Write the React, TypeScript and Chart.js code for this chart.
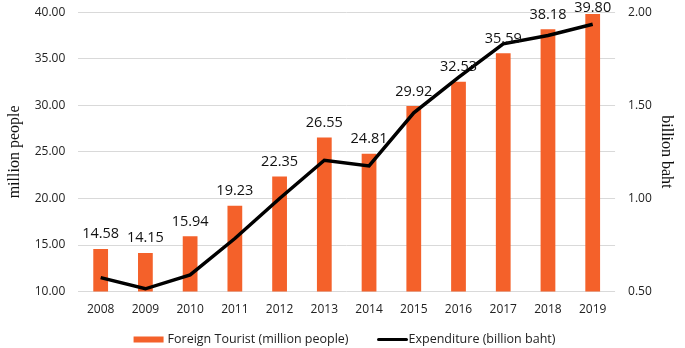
import React, { useEffect, useRef } from "react";
import { Chart, registerables } from "chart.js";

Chart.register(...registerables);

const years = ["2008", "2009", "2010", "2011", "2012", "2013", "2014", "2015", "2016", "2017", "2018", "2019"];
const foreignTourists = [14.58, 14.15, 15.94, 19.23, 22.35, 26.55, 24.81, 29.92, 32.53, 35.59, 38.18, 39.8];
const expenditure = [0.575, 0.515, 0.59, 0.785, 1.0, 1.205, 1.175, 1.46, 1.65, 1.83, 1.875, 1.935];
const seriesNames = ["Foreign Tourist (million people)", "Expenditure (billion baht)"];

const ORANGE = "#f4612a";
const TICK_FONT = "'Open Sans', sans-serif";

const barLabels = {
  id: "barLabels",
  afterDatasetsDraw(chart: any) {
    const ctx = chart.ctx;
    const meta = chart.getDatasetMeta(0);
    ctx.save();
    ctx.font = `14.5px ${TICK_FONT}`;
    ctx.fillStyle = "#111";
    ctx.textAlign = "center";
    ctx.textBaseline = "alphabetic";
    meta.data.forEach((el: any, i: number) => {
      const yBase = Math.max(el.y - 10.5, 12);
      ctx.fillText(foreignTourists[i].toFixed(2), el.x, yBase);
    });
    ctx.restore();
  },
};

const customLegend = {
  id: "customLegend",
  afterDraw(chart: any) {
    const ctx = chart.ctx;
    ctx.save();
    ctx.font = `12.5px ${TICK_FONT}`;
    const w1 = ctx.measureText(seriesNames[0]).width;
    const w2 = ctx.measureText(seriesNames[1]).width;
    const total = 30 + 4 + w1 + 30 + 28 + 2 + w2;
    const cx = 344.5;
    let x = cx - total / 2;
    const y = 339.5;
    ctx.fillStyle = ORANGE;
    ctx.fillRect(x, y - 3, 30, 6);
    x += 34;
    ctx.fillStyle = "#222";
    ctx.textBaseline = "middle";
    ctx.textAlign = "left";
    ctx.fillText(seriesNames[0], x, y);
    x += w1 + 30;
    ctx.strokeStyle = "#000";
    ctx.lineWidth = 3;
    ctx.lineCap = "round";
    ctx.beginPath();
    ctx.moveTo(x, y);
    ctx.lineTo(x + 28, y);
    ctx.stroke();
    x += 30;
    ctx.fillText(seriesNames[1], x, y);
    ctx.restore();
  },
};

export default function App() {
  const ref = useRef<HTMLCanvasElement>(null);
  useEffect(() => {
    if (!ref.current) return;
    const chart = new Chart(ref.current, {
      type: "bar",
      data: {
        labels: years,
        datasets: [
          {
            type: "bar",
            label: seriesNames[0],
            data: foreignTourists,
            backgroundColor: ORANGE,
            yAxisID: "y",
            barPercentage: 0.66,
            categoryPercentage: 0.5,
            order: 2,
          },
          {
            type: "line",
            label: seriesNames[1],
            data: expenditure,
            borderColor: "#000",
            backgroundColor: "#000",
            borderWidth: 3.5,
            pointRadius: 0,
            tension: 0,
            yAxisID: "y1",
            order: 1,
          },
        ],
      },
      options: {
        responsive: true,
        maintainAspectRatio: false,
        animation: false,
        layout: { padding: { top: 0, right: 5, left: 0, bottom: 20 } },
        plugins: {
          tooltip: { enabled: false },
          legend: { display: false },
        },
        scales: {
          x: {
            grid: { display: false, drawTicks: false },
            border: { display: false },
            ticks: { color: "#222", font: { family: TICK_FONT, size: 12 }, padding: 11 },
          },
          y: {
            position: "left",
            min: 10,
            max: 40,
            ticks: {
              stepSize: 5,
              color: "#222",
              font: { family: TICK_FONT, size: 12 },
              padding: 5,
              callback: (v: any) => Number(v).toFixed(2),
            },
            grid: { color: "#d9d9d9", drawTicks: true, tickLength: 8, tickColor: "rgba(0,0,0,0)" },
            border: { display: false },
            title: {
              display: true,
              text: "million people",
              color: "#111",
              font: { family: "'Liberation Serif', serif", size: 16 },
              padding: { top: 5, bottom: 5.5 },
            },
          },
          y1: {
            position: "right",
            min: 0.5,
            max: 2.0,
            ticks: {
              stepSize: 0.5,
              color: "#222",
              font: { family: TICK_FONT, size: 12 },
              padding: 5,
              callback: (v: any) => Number(v).toFixed(2),
            },
            grid: { drawOnChartArea: false, drawTicks: true, tickLength: 8, tickColor: "rgba(0,0,0,0)" },
            border: { display: false },
            title: {
              display: true,
              text: "billion baht",
              color: "#111",
              font: { family: "'Liberation Serif', serif", size: 16 },
              padding: { top: 4, bottom: 0 },
            },
          },
        },
      },
      plugins: [barLabels, customLegend],
    });
    return () => chart.destroy();
  }, []);
  return (
    <div style={{ position: "fixed", left: 0, top: 0, width: 685, height: 348, background: "#fff" }}>
      <canvas ref={ref} />
    </div>
  );
}
